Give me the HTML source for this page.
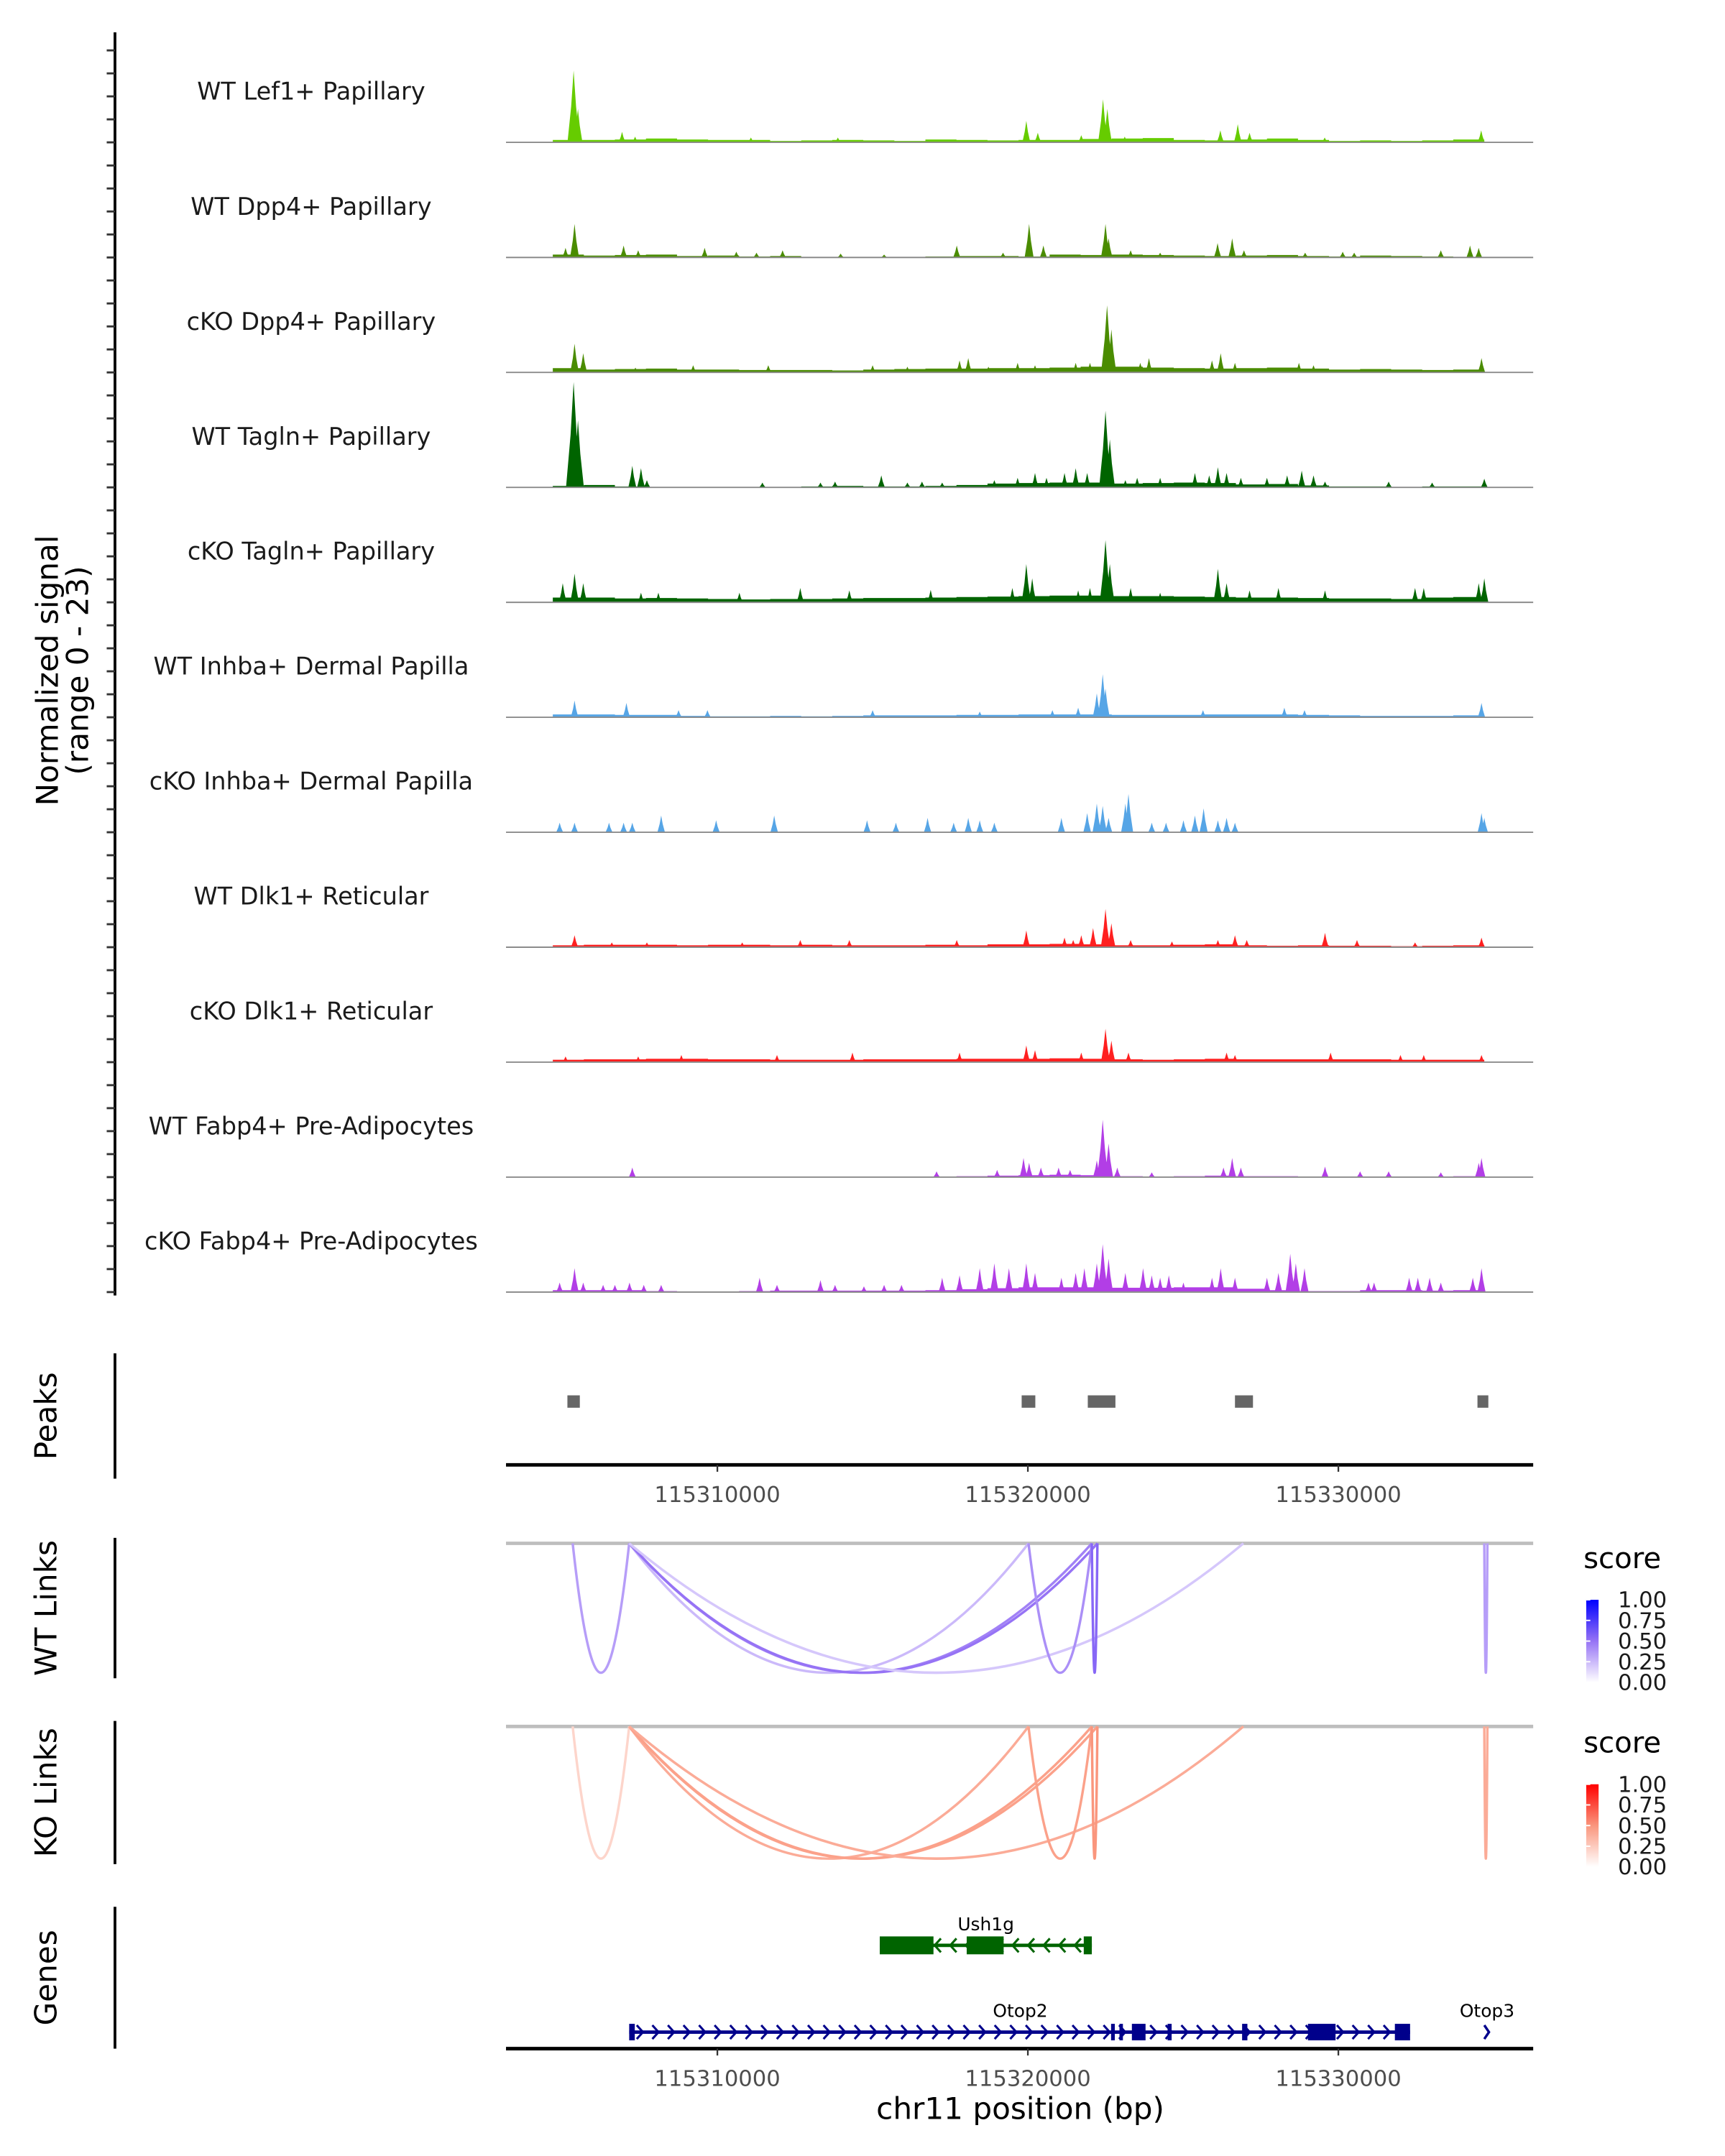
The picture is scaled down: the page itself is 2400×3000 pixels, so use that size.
<!DOCTYPE html>
<html><head><meta charset="utf-8"><style>
html,body{margin:0;padding:0;background:#fff;}
svg{display:block;font-family:"DejaVu Sans","Liberation Sans",sans-serif;}
</style></head><body>
<svg id="fig" xmlns="http://www.w3.org/2000/svg" width="2400" height="3000" viewBox="0 0 1252.8 1566" preserveAspectRatio="none">
<g id="tracks"></g>
<g id="axes"></g>
<g id="peaks"></g>
<g id="links"></g>
<g id="genes"></g>
</svg>
<script>
// ---------- data (positions in kb of chr11 relative to 115,300,000) ----------
const trackNames = ["WT Lef1+ Papillary","WT Dpp4+ Papillary","cKO Dpp4+ Papillary","WT Tagln+ Papillary","cKO Tagln+ Papillary","WT Inhba+ Dermal Papilla","cKO Inhba+ Dermal Papilla","WT Dlk1+ Reticular","cKO Dlk1+ Reticular","WT Fabp4+ Pre-Adipocytes","cKO Fabp4+ Pre-Adipocytes"];
const trackColors = ["#66cc00","#4a8c00","#4a8c00","#006400","#006400","#56a5e6","#56a5e6","#ff2020","#ff2020","#b23ee6","#b23ee6"];
const xTicks = [310, 320, 330];
const xTickLabels = ["115310000","115320000","115330000"];
const bg1 = [0.5,0.5,0.6,0.8,0.6,0.5,0.5,0.3,0.4,0.5,0.4,0.3,0.6,0.5,0.4,0.5,0.5,0.7,0.8,0.9,0.5,0.4,0.6,0.8,0.5,0.3,0.4,0.3,0.4,0.6];
const bg2 = [0.6,0.4,0.5,0.6,0.3,0.4,0.2,0.3,0.1,0,0,0,0.2,0.3,0.3,0.2,0.6,0.5,0.6,0.5,0.4,0.3,0.4,0.5,0.3,0.2,0.4,0.3,0.2,0.1];
const bg3 = [0.9,0.6,0.7,0.8,0.6,0.6,0.5,0.5,0.5,0.4,0.6,0.7,0.8,0.8,0.9,0.9,1.0,1.2,1.2,1.0,0.9,0.8,0.9,1.0,0.8,0.6,0.7,0.6,0.5,0.6];
const bg4 = [0.3,0.5,0.2,0,0,0,0.1,0,0.2,0.3,0.2,0.2,0.3,0.5,0.8,0.9,1.0,1.0,0.8,0.9,1.0,0.9,0.6,0.7,0.4,0.2,0.2,0.1,0.2,0.2];
const bg5 = [1.0,1.0,0.8,0.9,0.8,0.7,0.6,0.7,0.7,0.8,0.9,0.9,1.0,1.1,1.2,1.3,1.4,1.4,1.3,1.3,1.2,1.1,1.0,1.0,0.9,0.8,0.8,0.7,1.0,1.1];
const bg6 = [0.6,0.6,0.5,0.5,0.3,0.2,0.2,0.3,0.2,0.3,0.4,0.4,0.4,0.5,0.5,0.6,0.6,0.6,0.5,0.5,0.5,0.6,0.6,0.6,0.5,0.4,0.3,0.3,0.3,0.4];
const bg7 = [0,0,0,0,0,0,0,0,0,0,0,0,0,0,0,0,0,0,0,0,0,0,0,0,0,0,0,0,0,0];
const bg8 = [0.4,0.5,0.5,0.5,0.4,0.5,0.5,0.4,0.5,0.4,0.4,0.4,0.5,0.4,0.6,0.6,0.7,0.6,0.4,0.4,0.5,0.6,0.4,0.3,0.4,0.3,0.3,0.2,0.3,0.4];
const bg9 = [0.5,0.6,0.6,0.7,0.7,0.6,0.6,0.5,0.5,0.5,0.6,0.6,0.6,0.7,0.7,0.7,0.8,0.7,0.6,0.5,0.6,0.7,0.6,0.6,0.6,0.6,0.6,0.5,0.5,0.5];
const bg10 = [0,0,0,0,0,0,0,0,0,0,0,0,0,0.2,0.3,0.4,0.5,0.4,0.2,0,0.2,0.3,0.2,0.2,0.1,0.1,0.1,0,0.1,0.2];
const bg11 = [0.4,0.4,0.4,0.2,0,0,0.2,0.3,0.3,0.3,0.3,0.3,0.4,0.6,0.8,1.0,1.0,1.0,0.9,0.9,1.0,1.0,0.7,0.4,0.2,0.2,0.4,0.4,0.3,0.4];
const pk1 = [[305.37,15],[305.51,7],[306.93,2.2],[307.35,1.2],[311.08,1],[313.88,1],[319.95,4.5],[320.32,2],[321.72,1.5],[322.42,9],[322.56,7],[323.12,1.2],[326.2,2.5],[326.76,3.8],[327.14,2],[329.56,1],[334.6,2.5]];
const pk2 = [[305.11,2],[305.4,7],[306.98,2.5],[307.45,1.5],[309.59,2],[310.61,1.2],[311.26,1],[312.1,1.5],[313.97,0.8],[315.37,0.6],[317.71,2.5],[319.2,1],[320.04,7],[320.5,2.5],[322.5,7],[322.6,4],[323.31,1.5],[324.26,1],[326.11,3],[326.58,4],[326.96,1.5],[328.93,1],[330.14,1.2],[330.51,1],[333.3,1.5],[334.24,2.5],[334.52,2]];
const pk3 = [[305.4,6],[305.68,4],[307.36,1],[309.22,1.5],[311.64,1.5],[315.0,1.5],[316.12,1.2],[317.8,2.5],[318.08,3],[318.73,1.2],[319.67,2],[320.23,1.5],[321.54,2],[322.0,2],[322.55,14],[322.69,9],[323.62,2],[323.9,3],[325.93,2.5],[326.21,4],[326.67,2],[328.73,2],[329.2,1.5],[334.61,3]];
const pk4 = [[305.37,22],[305.51,14],[307.26,4.5],[307.54,4],[307.73,1.5],[311.45,1],[313.32,1],[313.79,1.2],[315.28,2.5],[316.12,1],[316.59,1.2],[317.24,1],[318.92,1.5],[319.67,2],[320.23,3],[320.6,2],[321.18,3],[321.54,4],[321.91,3],[322.5,16],[322.64,10],[323.14,1.5],[323.52,2],[324.26,2],[325.38,3],[325.84,2.5],[326.12,4.2],[326.4,3],[326.86,2],[327.7,2],[328.35,2.5],[328.82,3.5],[329.2,2.5],[329.57,1.2],[331.62,1.2],[333.02,1],[334.7,1.8]];
const pk5 = [[305.02,4],[305.4,6],[305.68,4],[307.54,2],[308.1,2],[310.71,2],[312.67,3],[314.25,2.5],[316.87,2.6],[319.5,3],[319.95,8],[320.14,5],[321.62,2.5],[322.0,3],[322.5,13],[322.64,8],[323.31,3],[324.26,2],[326.12,7],[326.4,4],[327.14,2.5],[328.07,3],[329.57,2.5],[332.47,3],[332.75,3],[334.52,4],[334.7,5]];
const pk6 = [[305.4,3.5],[307.07,3],[308.75,1.5],[309.68,1.5],[315.0,1.5],[318.45,1.2],[320.79,1.5],[321.62,2],[322.22,5],[322.41,9],[322.5,6],[325.64,1.5],[328.26,2],[328.91,1.5],[334.61,3]];
const pk7 = [[304.92,2],[305.4,2],[306.51,2],[306.98,2],[307.26,2],[308.19,3.5],[309.96,2.5],[311.83,3.5],[314.82,2.5],[315.75,2],[316.77,3],[317.61,2],[318.08,3],[318.45,2.5],[318.92,2],[321.08,3],[321.91,4],[322.22,6],[322.41,5.5],[322.6,3],[323.14,6],[323.24,8],[323.99,2],[324.45,2],[325.01,2.5],[325.38,3.5],[325.66,5],[326.12,2.5],[326.4,3],[326.67,2],[334.61,4],[334.7,3]];
const pk8 = [[305.4,2.5],[306.6,1],[307.73,1],[310.8,1],[312.67,1.5],[314.25,1.5],[317.71,1.5],[319.95,3.5],[321.18,2],[321.46,1.5],[321.72,2.5],[322.1,4],[322.5,8],[322.69,5],[323.31,1.5],[324.64,1.2],[326.12,1.5],[326.67,2.5],[327.05,1.5],[329.57,3],[330.6,1.5],[332.47,1],[334.61,2]];
const pk9 = [[305.11,1.2],[307.45,1.2],[308.84,1.5],[311.92,1.5],[314.35,2],[317.8,2],[319.95,3.5],[320.23,2.5],[321.72,2],[322.5,7],[322.69,4.5],[323.24,2],[326.4,2],[326.67,1.5],[329.75,2],[332.0,1.5],[332.75,1.5],[334.61,1.5]];
const pk10 = [[307.26,2],[317.06,1.2],[319.01,1.5],[319.86,4],[320.04,3],[320.42,2],[320.99,2],[321.36,1.5],[322.22,3.5],[322.41,12],[322.6,7],[322.88,2],[323.99,1],[326.3,2],[326.58,4],[326.86,2],[329.57,2.2],[330.7,1.2],[331.62,1.2],[333.3,1],[334.52,3],[334.61,4]];
const pk11 = [[304.92,2],[305.4,5],[305.68,2],[306.32,1.5],[306.7,1.5],[307.17,2],[307.63,1.5],[308.19,1.5],[311.36,3],[311.92,1.5],[313.32,2.5],[313.79,1.5],[314.72,1.2],[315.37,1.5],[315.93,1.5],[317.24,3],[317.8,3.5],[318.45,5],[318.92,6],[319.39,5],[319.95,6],[320.23,4],[321.08,3],[321.54,4],[321.82,5],[322.22,6],[322.41,10],[322.6,7],[323.14,4],[323.71,5],[323.99,3.5],[324.26,3],[324.54,3.5],[325.01,2],[325.93,3],[326.21,5],[326.67,3],[327.7,3],[328.07,4],[328.45,8],[328.63,6],[328.91,5],[330.97,2],[331.15,2],[332.28,3],[332.56,3],[332.94,3],[333.3,2],[334.33,3],[334.61,5]];
const peakStarts = [305.17,319.80,321.93,326.67,334.48];
const peakEnds   = [305.57,320.24,322.82,327.25,334.83];
const linkStarts = [305.34,307.16,307.16,307.16,307.16,320.02,322.06,334.70];
const linkEnds   = [307.16,320.02,322.06,322.24,326.94,322.06,322.24,334.80];
const wtScores   = [0.35,0.25,0.45,0.5,0.2,0.4,0.55,0.35];
const koScores   = [0.2,0.4,0.45,0.45,0.4,0.45,0.5,0.4];
const legendTicks = [1.00,0.75,0.50,0.25,0.00];
const ush1gExonStarts = [315.23,318.03,321.80];
const ush1gExonEnds   = [316.96,319.22,322.06];
const otop2ExonStarts = [307.16,322.68,322.95,323.35,324.50,326.90,329.02,331.82];
const otop2ExonEnds   = [307.34,322.80,323.05,323.79,324.63,327.07,329.91,332.31];
</script>
<script>
const NS="http://www.w3.org/2000/svg";
function mk(parent,tag,attrs,text){const e=document.createElementNS(NS,tag);for(const k in attrs)e.setAttribute(k,attrs[k]);if(text!==undefined)e.textContent=text;parent.appendChild(e);return e;}
const X0=367.5,X1=1113.5;
function x(kb){return 521+(kb-310)*22.55;}
const unitPx=80/23;
const baselines=[103.4,187,270.5,354,437.5,521,604.5,688,771.5,855,938.5];
const bgs=[bg1,bg2,bg3,bg4,bg5,bg6,bg7,bg8,bg9,bg10,bg11];
const pks=[pk1,pk2,pk3,pk4,pk5,pk6,pk7,pk8,pk9,pk10,pk11];
const gT=document.getElementById('tracks');
for(let t=0;t<11;t++){
  const b=baselines[t];
  const g=mk(gT,'g',{});
  
  
  let d='';
  bgs[t].forEach((v,i)=>{ if(v>0){const xa=x(304.7+i),xb=x(305.7+i),h=v*unitPx; d+=`M${xa},${b}L${xa},${b-h}L${xb},${b-h}L${xb},${b}Z`;} });
  pks[t].forEach(p=>{const xc=x(p[0]),h=p[1]*unitPx,w=2.2+p[1]*0.15; d+=`M${xc-w},${b}L${xc-w*0.4},${b-h*0.5}L${xc},${b-h}L${xc+w*0.4},${b-h*0.5}L${xc+w},${b}Z`;});
  const area=mk(g,'path',{d:d,fill:trackColors[t]});
  
  
  const bl=mk(g,'line',{x1:X0,x2:X1,y1:b,y2:b,stroke:'#8c8c8c','stroke-width':1});
  
  
  const lab=mk(g,'text',{x:226,y:b-31,'font-size':17.5,'text-anchor':'middle',fill:'#1a1a1a'},trackNames[t]);
  
  
}
// left axes
const gA=document.getElementById('axes');
const ya=mk(gA,'line',{x1:83.5,x2:83.5,y1:23.5,y2:941,stroke:'#000','stroke-width':2});


for(let t=0;t<11;t++){for(let j=0;j<5;j++){const yy=baselines[t]-j*16.7;
  const tk=mk(gA,'line',{x1:77.5,x2:83.5,y1:yy,y2:yy,stroke:'#333','stroke-width':1.5});
  
  }}
const yt=mk(gA,'text',{transform:'translate(42,487) rotate(-90)','font-size':22,'text-anchor':'middle',fill:'#000'});


mk(yt,'tspan',{x:0,dy:0},'Normalized signal');
mk(yt,'tspan',{x:0,dy:22},'(range 0 - 23)');
function panelAxis(g,y1,y2,label,name){
  const l=mk(g,'line',{x1:83.5,x2:83.5,y1:y1,y2:y2,stroke:'#000','stroke-width':2});
  
  
  const t=mk(g,'text',{transform:`translate(41,${(y1+y2)/2}) rotate(-90)`,'font-size':22,'text-anchor':'middle',fill:'#000'},label);
  
  
}
function xAxis(g,y,name){
  const l=mk(g,'line',{x1:X0,x2:X1,y1:y,y2:y,stroke:'#000','stroke-width':2.6});
  
  
  xTicks.forEach((v,i)=>{
    const tk=mk(g,'line',{x1:x(v),x2:x(v),y1:y,y2:y+5,stroke:'#333','stroke-width':1.2});
    
    
    const tl=mk(g,'text',{x:x(v),y:y+27,'font-size':16,'text-anchor':'middle',fill:'#4d4d4d'},xTickLabels[i]);
    
    
  });
}
// peaks
const gP=document.getElementById('peaks');
panelAxis(gP,983,1074,'Peaks','peaks');
peakStarts.forEach((s,i)=>{const r=mk(gP,'rect',{x:x(s),y:1013.5,width:x(peakEnds[i])-x(s),height:9,fill:'#666'});
  
  });
xAxis(gP,1064,'peaks');
// links
const gL=document.getElementById('links');
function mix(a,b,t){return a.map((v,i)=>Math.round(v+(b[i]-v)*t));}
function colorFor(s,mid,hi){const c=s<0.5?mix([255,255,255],mid,s/0.5):mix(mid,hi,(s-0.5)/0.5);return `rgb(${c[0]},${c[1]},${c[2]})`;}
const purpleMid=[150,115,245],purpleHi=[0,0,255],redMid=[250,150,125],redHi=[255,0,0];
function linkPanel(top,bottom,scores,mid,hi,label,name,legendY){
  panelAxis(gL,top-4,bottom+4,label,name);
  const base=mk(gL,'line',{x1:X0,x2:X1,y1:top,y2:top,stroke:'#bebebe','stroke-width':2.5});
  
  
  linkStarts.forEach((s,i)=>{const xa=x(s),xb=x(linkEnds[i]),cx=(xa+xb)/2,cy=top+2*(bottom-top);
    const p=mk(gL,'path',{d:`M${xa},${top}Q${cx},${cy} ${xb},${top}`,fill:'none',stroke:colorFor(scores[i],mid,hi),'stroke-width':1.8});
    
    });
  const lt=mk(gL,'text',{x:1150,y:legendY,'font-size':21,fill:'#000'},'score');
  
  
  const gid='grad-'+name;
  const defs=mk(gL,'defs',{});const lg=mk(defs,'linearGradient',{id:gid,x1:0,y1:1,x2:0,y2:0});
  mk(lg,'stop',{offset:'0',  'stop-color':'#fff'});mk(lg,'stop',{offset:'0.5','stop-color':`rgb(${mid})`});mk(lg,'stop',{offset:'1','stop-color':`rgb(${hi})`});
  const by=legendY+23,bh=60;
  const bar=mk(gL,'rect',{x:1152,y:by,width:9,height:bh,fill:`url(#${gid})`});
  
  
  legendTicks.forEach(v=>{const yy=by+(1-v)*bh;
    const tl=mk(gL,'text',{x:1175,y:yy+5.5,'font-size':16,fill:'#1a1a1a'},v.toFixed(2));
    
    
    mk(gL,'line',{x1:1152,x2:1155,y1:yy,y2:yy,stroke:'#fff','stroke-width':1});});
}
linkPanel(1121,1215,wtScores,purpleMid,purpleHi,'WT Links','wt-links',1139);
linkPanel(1254,1350,koScores,redMid,redHi,'KO Links','ko-links',1273);
// genes
const gG=document.getElementById('genes');
panelAxis(gG,1385,1488,'Genes','genes');
function gene(name,starts,ends,y,color,dir,labelX,hh,label){
  const g=mk(gG,'g',{});
  
  
  const xs=x(starts[0]),xe=x(ends[ends.length-1]);
  mk(g,'line',{x1:xs,x2:xe,y1:y,y2:y,stroke:color,'stroke-width':2.5});
  for(let px=xs+8;px<xe-4;px+=11.3){const s=dir>0?1:-1;
    mk(g,'polyline',{points:`${px-2.5*s},${y-5} ${px+2*s},${y} ${px-2.5*s},${y+5}`,fill:'none',stroke:color,'stroke-width':1.6});}
  starts.forEach((s,i)=>{const r=mk(g,'rect',{x:x(s),y:y-hh/2,width:Math.max(2.5,x(ends[i])-x(s)),height:hh,fill:color});
    
    });
  const t=mk(g,'text',{x:labelX,y:y-11,'font-size':13,'text-anchor':'middle',fill:'#000'},label);
  
  
}
gene('ush1g',ush1gExonStarts,ush1gExonEnds,1413,'#006400',-1,716,13,'Ush1g');
gene('otop2',otop2ExonStarts,otop2ExonEnds,1476,'#00008b',1,741,12,'Otop2');
const o3=mk(gG,'polyline',{points:`${x(334.7)},${1471} ${x(334.85)},${1476} ${x(334.7)},${1481}`,fill:'none',stroke:'#00008b','stroke-width':1.8});


const o3t=mk(gG,'text',{x:1080,y:1465,'font-size':13,'text-anchor':'middle',fill:'#000'},'Otop3');


xAxis(gG,1488,'genes');
const xt=mk(gG,'text',{x:741,y:1539,'font-size':22,'text-anchor':'middle',fill:'#000'},'chr11 position (bp)');


</script>
</body></html>
